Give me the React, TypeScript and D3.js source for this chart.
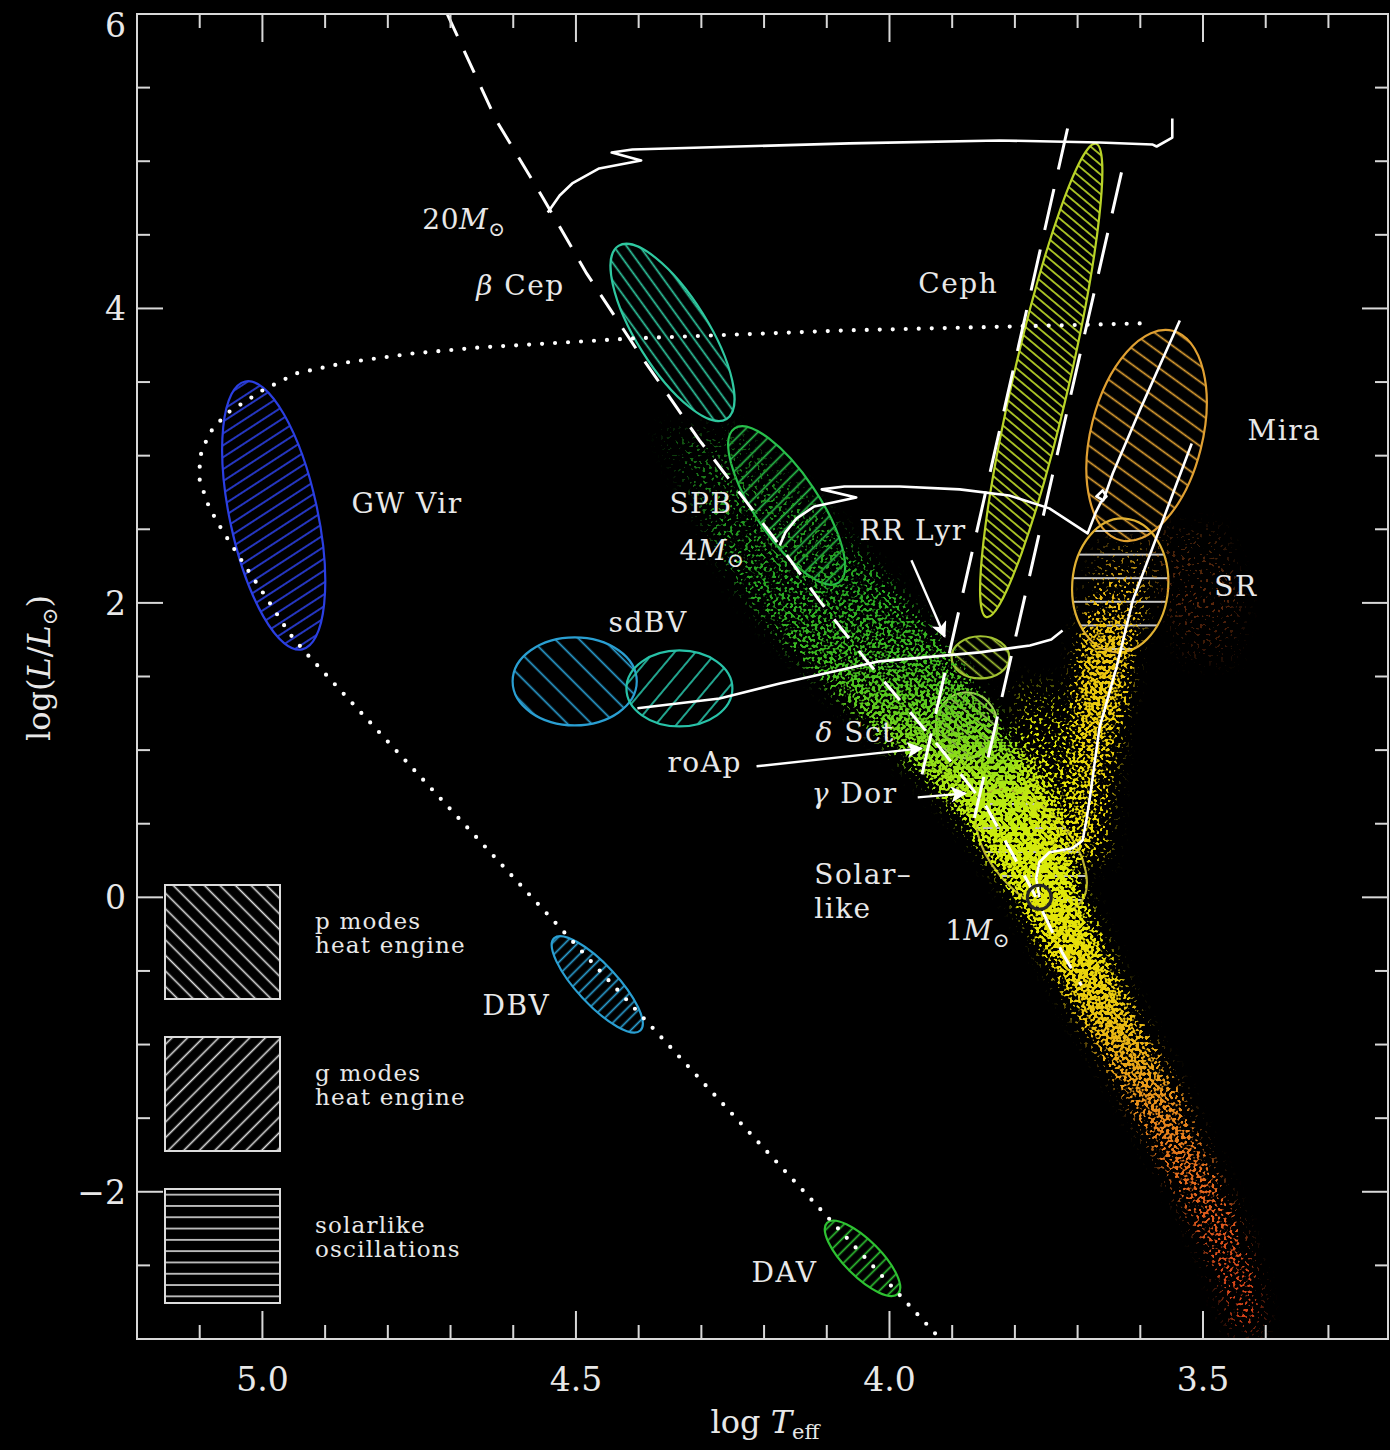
import React from 'react';
import * as d3 from 'd3';

// Page and plot frame (pixels)
const WIDTH = 1390;
const HEIGHT = 1450;
const PLOT = { left: 137, right: 1388, top: 14, bottom: 1339 };

// Axis domains: log Teff runs backwards, log L/Lsun upwards
const T_DOMAIN: [number, number] = [5.2, 3.205];
const L_DOMAIN: [number, number] = [-3, 6];

const xMajorTicks = [5.0, 4.5, 4.0, 3.5];
const xMinorTicks = [5.1, 4.9, 4.8, 4.7, 4.6, 4.4, 4.3, 4.2, 4.1, 3.9, 3.8, 3.7, 3.6, 3.4, 3.3];
const yMajorTicks = [-2, 0, 2, 4, 6];
const yMinorTicks = [-2.5, -1.5, -1, -0.5, 0.5, 1, 1.5, 2.5, 3, 3.5, 4.5, 5, 5.5];

// Zero-age main sequence [logTeff, logL]
const zams: [number, number][] = [
  [4.705, 5.997], [4.627, 5.277], [4.553, 4.754], [4.483, 4.238], [4.399, 3.694],
  [4.303, 3.104], [4.175, 2.39], [4.112, 2.017], [4.037, 1.61], [3.92, 1.019],
  [3.845, 0.611], [3.772, 0.048], [3.724, -0.38], [3.694, -0.598],
];

// Classical instability strip edges
const stripBlueEdge: [number, number][] = [[3.716, 5.222], [3.952, 0.761]];
const stripRedEdge: [number, number][] = [[3.63, 4.924], [3.868, 0.475]];

// Post-AGB / white-dwarf cooling sequence
const postAgb: [number, number][] = [
  [3.601, 3.898], [4.069, 3.851], [4.41, 3.796], [4.654, 3.735], [4.761, 3.694],
  [4.866, 3.633], [4.946, 3.559], [5.0, 3.443], [5.057, 3.287], [5.085, 3.151],
  [5.1, 2.988], [5.1, 2.832], [5.085, 2.649], [5.064, 2.492], [5.026, 2.241],
  [4.994, 2.037], [4.957, 1.793], [4.93, 1.657], [3.92, -2.995],
];

// Evolutionary tracks
const track20: [number, number][] = [
  [4.545, 4.652], [4.526, 4.767], [4.506, 4.849], [4.463, 4.951], [4.396, 5.005],
  [4.443, 5.059], [4.41, 5.08], [4.064, 5.121], [3.825, 5.141], [3.665, 5.127],
  [3.581, 5.114], [3.574, 5.1], [3.549, 5.161], [3.549, 5.29],
];
const track4: [number, number][] = [
  [4.175, 2.39], [4.166, 2.479], [4.148, 2.574], [4.12, 2.655], [4.053, 2.716],
  [4.108, 2.771], [4.072, 2.791], [3.984, 2.791], [3.888, 2.771], [3.809, 2.73],
  [3.745, 2.642], [3.684, 2.472], [3.671, 2.615], [3.663, 2.683], [3.654, 2.723],
  [3.66, 2.764], [3.67, 2.723], [3.659, 2.696], [3.644, 2.879], [3.601, 3.307],
  [3.537, 3.918],
];
const track1: [number, number][] = [
  [3.761, 0], [3.766, 0.129], [3.761, 0.238], [3.745, 0.306], [3.708, 0.333],
  [3.692, 0.387], [3.686, 0.523], [3.681, 0.659], [3.665, 1.154], [3.638, 1.562],
  [3.612, 2.017], [3.518, 3.083],
];
const horizontalBranch: [number, number][] = [
  [4.402, 1.284], [4.271, 1.351], [4.175, 1.453], [4.016, 1.603], [3.856, 1.664],
  [3.776, 1.711], [3.742, 1.752], [3.724, 1.813],
];
const sun: [number, number] = [3.761, 0];

// Pulsation regions: centre, half extents (logTeff, logL), tilt, driving type
type Zone = { name: string; t: number; L: number; dT: number; dL: number; tilt: number; mode: 'p' | 'g' | 's' };
const zones: Zone[] = [
  { name: 'GW Vir', t: 4.982, L: 2.594, dT: 0.07, dL: 0.93, tilt: -12, mode: 'g' },
  { name: 'β Cep', t: 4.346, L: 3.837, dT: 0.057, dL: 0.693, tilt: -32, mode: 'p' },
  { name: 'SPB', t: 4.164, L: 2.662, dT: 0.051, dL: 0.632, tilt: -34, mode: 'g' },
  { name: 'sdBV p', t: 4.502, L: 1.467, dT: 0.099, dL: 0.299, tilt: 0, mode: 'p' },
  { name: 'sdBV g', t: 4.335, L: 1.419, dT: 0.0845, dL: 0.258, tilt: 0, mode: 'g' },
  { name: 'Ceph', t: 3.758, L: 3.511, dT: 0.0447, dL: 1.65, tilt: 13, mode: 'p' },
  { name: 'Mira', t: 3.59, L: 3.137, dT: 0.089, dL: 0.733, tilt: 14, mode: 'p' },
  { name: 'SR', t: 3.632, L: 2.119, dT: 0.0766, dL: 0.455, tilt: 4, mode: 's' },
  { name: 'RR Lyr', t: 3.855, L: 1.63, dT: 0.046, dL: 0.143, tilt: 0, mode: 'p' },
  { name: 'δ Sct', t: 3.877, L: 1.168, dT: 0.049, dL: 0.224, tilt: 0, mode: 'p' },
  { name: 'Solar-like', t: 3.774, L: 0.319, dT: 0.064, dL: 0.489, tilt: -40, mode: 's' },
  { name: 'DBV', t: 4.466, L: -0.591, dT: 0.032, dL: 0.428, tilt: -43, mode: 'g' },
  { name: 'DAV', t: 4.043, L: -2.452, dT: 0.0287, dL: 0.34, tilt: -45, mode: 'g' },
];

// Outline colour, hatch angle (deg) and hatch gap (px) per region
const zoneStyle: Record<string, [string, number, number]> = {
  'GW Vir': ['#2b3fe2', -33, 10],
  'β Cep': ['#2fc8a0', 54, 10.5],
  'SPB': ['#28c04c', -45, 11],
  'sdBV p': ['#2a9fd2', 45, 17],
  'sdBV g': ['#28c2a8', -50, 16],
  'Ceph': ['#b9d328', 40, 7.5],
  'Mira': ['#e0a032', 36, 13],
  'SR': ['#e0b032', 0, 23.6],
  'RR Lyr': ['#a2c232', 40, 9],
  'δ Sct': ['#9ccf52', 40, 8],
  'Solar-like': ['#b9b232', 0, 24],
  'DBV': ['#2a9fd2', -45, 9],
  'DAV': ['#2ec232', -45, 9],
};

// Stellar sample density ridges: [logTeff, logL, half spread in logTeff, relative density]
const mainSequenceStars: number[][] = [
  [4.303, 3.17, 0.064, 0.18], [4.207, 2.63, 0.096, 0.3], [4.112, 2.085, 0.12, 0.45],
  [4.016, 1.61, 0.12, 0.58], [3.92, 1.134, 0.1, 0.8], [3.835, 0.727, 0.085, 0.97],
  [3.785, 0.353, 0.066, 1], [3.743, -0.02, 0.05, 1], [3.697, -0.428, 0.045, 0.95],
  [3.649, -0.835, 0.042, 0.85], [3.585, -1.31, 0.04, 0.72], [3.537, -1.72, 0.036, 0.62],
  [3.49, -2.126, 0.034, 0.52], [3.45, -2.533, 0.03, 0.42], [3.429, -2.94, 0.022, 0.32],
];
const giantStars: number[][] = [
  [3.681, 0.25, 0.028, 0.35], [3.678, 0.795, 0.032, 0.5], [3.665, 1.34, 0.038, 0.8],
  [3.652, 1.745, 0.04, 0.75], [3.633, 2.085, 0.045, 0.3], [3.617, 2.42, 0.045, 0.12],
];
const subgiantStars: number[][] = [
  [3.76, 1.45, 0.04, 0.15], [3.745, 1.0, 0.05, 0.35], [3.73, 0.55, 0.05, 0.45], [3.715, 0.25, 0.04, 0.4],
];
const coolGiantStars: number[][] = [
  [3.53, 2.5, 0.06, 0.08], [3.5, 2.0, 0.06, 0.12], [3.49, 1.6, 0.04, 0.06],
];
const starBands = [mainSequenceStars, giantStars, subgiantStars, coolGiantStars];

// Arrows [logT0, logL0, logT1, logL1]
const arrows: number[][] = [
  [3.965, 2.289, 3.912, 1.772],
  [4.212, 0.89, 3.949, 1.012],
  [3.955, 0.679, 3.879, 0.706],
];

// Region labels: text anchor at start, baseline
type Label = { text: string; t: number; L: number; fmt?: 'greek' | 'mass' };
const labels: Label[] = [
  { text: '20', t: 4.745, L: 4.543, fmt: 'mass' },
  { text: 'β Cep', t: 4.659, L: 4.088, fmt: 'greek' },
  { text: 'Ceph', t: 3.954, L: 4.102 },
  { text: 'Mira', t: 3.429, L: 3.104 },
  { text: 'GW Vir', t: 4.858, L: 2.608 },
  { text: 'SPB', t: 4.351, L: 2.608 },
  { text: '4', t: 4.335, L: 2.289, fmt: 'mass' },
  { text: 'RR Lyr', t: 4.048, L: 2.424 },
  { text: 'SR', t: 3.482, L: 2.044 },
  { text: 'sdBV', t: 4.448, L: 1.8 },
  { text: 'δ Sct', t: 4.118, L: 1.053, fmt: 'greek' },
  { text: 'roAp', t: 4.354, L: 0.849 },
  { text: 'γ Dor', t: 4.124, L: 0.638, fmt: 'greek' },
  { text: 'Solar–', t: 4.12, L: 0.088 },
  { text: 'like', t: 4.12, L: -0.143 },
  { text: '1', t: 3.911, L: -0.292, fmt: 'mass' },
  { text: 'DBV', t: 4.649, L: -0.801 },
  { text: 'DAV', t: 4.22, L: -2.615 },
];

const legendEntries: { mode: 'p' | 'g' | 's'; lines: string[] }[] = [
  { mode: 'p', lines: ['p modes', 'heat engine'] },
  { mode: 'g', lines: ['g modes', 'heat engine'] },
  { mode: 's', lines: ['solarlike', 'oscillations'] },
];

const SERIF = "'DejaVu Serif', 'Liberation Serif', serif";
const FG = '#e8e8e8';

function ellipsePath(cx: number, cy: number, rx: number, ry: number, phi: number) {
  const r = (phi * Math.PI) / 180;
  const dx = rx * Math.cos(r);
  const dy = rx * Math.sin(r);
  return `M${cx + dx},${cy + dy} A${rx},${ry} ${phi} 1 1 ${cx - dx},${cy - dy} A${rx},${ry} ${phi} 1 1 ${cx + dx},${cy + dy} Z`;
}

function LabelText({ d, x, y }: { d: Label; x: (v: number) => number; y: (v: number) => number }) {
  const common = { x: x(d.t), y: y(d.L), fill: FG, fontFamily: SERIF, fontSize: 28, letterSpacing: 1.5 };
  if (d.fmt === 'greek') {
    const [g, rest] = d.text.split(' ');
    return (
      <text {...common}>
        <tspan fontStyle="italic">{g}</tspan>
        <tspan>{'\u00a0' + rest}</tspan>
      </text>
    );
  }
  if (d.fmt === 'mass') {
    return (
      <text {...common} letterSpacing={0.5}>
        <tspan>{d.text}</tspan>
        <tspan fontStyle="italic">M</tspan>
        <tspan fontSize={20} dy={7}>⊙</tspan>
      </text>
    );
  }
  return <text {...common}>{d.text}</text>;
}

export default function App() {
  const x = d3.scaleLinear().domain(T_DOMAIN).range([PLOT.left, PLOT.right]);
  const y = d3.scaleLinear().domain(L_DOMAIN).range([PLOT.bottom, PLOT.top]);
  const line = d3.line<[number, number]>().x((d) => x(d[0])).y((d) => y(d[1]));

  const starColor = d3
    .scaleLinear<string>()
    .domain([4.35, 4.12, 3.97, 3.86, 3.77, 3.69, 3.63, 3.57, 3.5, 3.42])
    .range(['#1a7a1a', '#25a523', '#48c41e', '#9fe617', '#dcee08', '#ead80a', '#e8b414', '#e88a1c', '#e0601c', '#cf3a18'])
    .clamp(true);

  const band = d3
    .area<number[]>()
    .curve(d3.curveCatmullRom)
    .y((d) => y(d[1]))
    .x0((d) => x(d[0] + d[2]))
    .x1((d) => x(d[0] - d[2]));

  const pw = PLOT.right - PLOT.left;
  const ph = PLOT.bottom - PLOT.top;

  const legendBoxes = [885, 1037, 1189];

  return (
    <svg
      width={WIDTH}
      height={HEIGHT}
      style={{ position: 'absolute', left: 0, top: 0, display: 'block', background: '#000' }}
    >
      <defs>
        <clipPath id="plotClip">
          <rect x={PLOT.left} y={PLOT.top} width={pw} height={ph} />
        </clipPath>
        <filter
          id="starGrain"
          filterUnits="userSpaceOnUse"
          x={PLOT.left}
          y={PLOT.top}
          width={pw}
          height={ph}
          colorInterpolationFilters="sRGB"
        >
          <feGaussianBlur in="SourceGraphic" stdDeviation="9" result="soft" />
          <feColorMatrix in="soft" type="matrix" values="0 0 0 0 0  0 0 0 0 0  0 0 0 0 0  0 0 0 1 0" result="dens" />
          <feTurbulence type="fractalNoise" baseFrequency="0.33" numOctaves="1" seed="7" result="noise" />
          <feColorMatrix in="noise" type="matrix" values="0 0 0 0 0  0 0 0 0 0  0 0 0 0 0  3.2 0 0 0 -1.1" result="grain" />
          <feComposite in="dens" in2="grain" operator="arithmetic" k1="0" k2="3.5" k3="3.5" k4="-3.5" result="mask" />
          <feColorMatrix in="soft" type="matrix" values="1 0 0 0 0  0 1 0 0 0  0 0 1 0 0  0 0 0 0 1" result="solid" />
          <feComposite in="solid" in2="mask" operator="in" />
        </filter>
        {starBands.map((b, i) => {
          const y1 = y(b[0][1]);
          const y2 = y(b[b.length - 1][1]);
          return (
            <linearGradient key={i} id={`band-${i}`} gradientUnits="userSpaceOnUse" x1={0} x2={0} y1={y1} y2={y2}>
              {b.map((d, j) => (
                <stop
                  key={j}
                  offset={(y(d[1]) - y1) / (y2 - y1)}
                  stopColor={starColor(d[0])}
                  stopOpacity={d[3]}
                />
              ))}
            </linearGradient>
          );
        })}
        {zones.map((z, i) => {
          const [col, ang, gap] = zoneStyle[z.name];
          const hatchCol = z.mode === 's' ? '#e6e6e6' : col;
          return (
            <pattern
              key={i}
              id={`hatch-${i}`}
              patternUnits="userSpaceOnUse"
              width={gap}
              height={gap}
              patternTransform={`rotate(${ang})`}
            >
              <line x1={0} y1={gap / 2} x2={gap} y2={gap / 2} stroke={hatchCol} strokeWidth={1.7} />
            </pattern>
          );
        })}
        {legendEntries.map((e, i) => {
          const gap = e.mode === 's' ? 11.3 : 11;
          const ang = e.mode === 'p' ? 45 : e.mode === 'g' ? -45 : 0;
          return (
            <pattern
              key={i}
              id={`legend-${e.mode}`}
              patternUnits="userSpaceOnUse"
              width={gap}
              height={gap}
              patternTransform={`translate(165 ${legendBoxes[i]}) rotate(${ang})`}
            >
              <line x1={0} y1={gap / 2} x2={gap} y2={gap / 2} stroke="#dcdcdc" strokeWidth={1.6} />
            </pattern>
          );
        })}
        <marker
          id="arrowHead"
          viewBox="0 0 10 10"
          refX="9"
          refY="5"
          markerWidth="20"
          markerHeight="16"
          markerUnits="userSpaceOnUse"
          orient="auto"
        >
          <path d="M0,0 L10,5 L0,10 L2.5,5 z" fill="#fff" />
        </marker>
      </defs>

      <rect x={0} y={0} width={WIDTH} height={HEIGHT} fill="#000" />

      <g clipPath="url(#plotClip)">
        {/* instability regions */}
        {zones.map((z, i) => {
          const cx = x(z.t);
          const cy = y(z.L);
          const rx = Math.abs(x(z.t + z.dT) - cx);
          const ry = Math.abs(y(z.L + z.dL) - cy);
          const d = ellipsePath(cx, cy, rx, ry, z.tilt);
          return (
            <path key={z.name} d={d} fill={`url(#hatch-${i})`} stroke={zoneStyle[z.name][0]} strokeWidth={2.2} />
          );
        })}

        {/* stellar sample */}
        <g filter="url(#starGrain)">
          {starBands.map((b, i) => (
            <path key={i} d={band(b) || ''} fill={`url(#band-${i})`} />
          ))}
        </g>

        {/* sequences and tracks */}
        <path d={line(postAgb) || ''} fill="none" stroke="#fff" strokeWidth={4.2} strokeDasharray="0 13" strokeLinecap="round" />
        <path d={line(zams) || ''} fill="none" stroke="#fff" strokeWidth={3} strokeDasharray="24 16" />
        <path d={line(stripBlueEdge) || ''} fill="none" stroke="#fff" strokeWidth={3} strokeDasharray="42 20" />
        <path d={line(stripRedEdge) || ''} fill="none" stroke="#fff" strokeWidth={3} strokeDasharray="42 20" />
        {[track20, track4, track1, horizontalBranch].map((tr, i) => (
          <path key={i} d={line(tr) || ''} fill="none" stroke="#fff" strokeWidth={2.6} strokeLinejoin="round" />
        ))}
        <circle cx={x(sun[0])} cy={y(sun[1])} r={12} fill="none" stroke="#262626" strokeWidth={3} />

        {arrows.map((a, i) => (
          <line
            key={i}
            x1={x(a[0])}
            y1={y(a[1])}
            x2={x(a[2])}
            y2={y(a[3])}
            stroke="#fff"
            strokeWidth={2.4}
            markerEnd="url(#arrowHead)"
          />
        ))}
      </g>

      {/* region labels */}
      {labels.map((d, i) => (
        <LabelText key={i} d={d} x={x} y={y} />
      ))}

      {/* legend */}
      {legendEntries.map((e, i) => (
        <g key={e.mode}>
          <rect
            x={165}
            y={legendBoxes[i]}
            width={115}
            height={114}
            fill={`url(#legend-${e.mode})`}
            stroke="#dcdcdc"
            strokeWidth={2}
          />
          {e.lines.map((s, j) => (
            <text
              key={j}
              x={315}
              y={legendBoxes[i] + 44 + j * 24}
              fill={FG}
              fontFamily={SERIF}
              fontSize={23}
              letterSpacing={1.2}
            >
              {s}
            </text>
          ))}
        </g>
      ))}

      {/* frame and ticks */}
      <rect x={PLOT.left} y={PLOT.top} width={pw} height={ph} fill="none" stroke="#d8d8d8" strokeWidth={2} />
      {xMajorTicks.concat(xMinorTicks).map((t) => {
        const len = xMajorTicks.includes(t) ? 28 : 14;
        const px = x(t);
        return (
          <g key={`xt${t}`} stroke="#d8d8d8" strokeWidth={2}>
            <line x1={px} x2={px} y1={PLOT.bottom} y2={PLOT.bottom - len} />
            <line x1={px} x2={px} y1={PLOT.top} y2={PLOT.top + len} />
          </g>
        );
      })}
      {yMajorTicks.concat(yMinorTicks).map((v) => {
        const len = yMajorTicks.includes(v) ? 26 : 13;
        const py = y(v);
        return (
          <g key={`yt${v}`} stroke="#d8d8d8" strokeWidth={2}>
            <line x1={PLOT.left} x2={PLOT.left + len} y1={py} y2={py} />
            <line x1={PLOT.right} x2={PLOT.right - len} y1={py} y2={py} />
          </g>
        );
      })}
      {xMajorTicks.map((t) => (
        <text key={`xl${t}`} x={x(t)} y={1391} textAnchor="middle" fill={FG} fontFamily={SERIF} fontSize={33}>
          {t.toFixed(1)}
        </text>
      ))}
      {yMajorTicks.map((v) => (
        <text
          key={`yl${v}`}
          x={126}
          y={Math.max(y(v), 25) + 12}
          textAnchor="end"
          fill={FG}
          fontFamily={SERIF}
          fontSize={33}
        >
          {v < 0 ? `\u2212${Math.abs(v)}` : `${v}`}
        </text>
      ))}

      {/* axis titles */}
      <text x={765} y={1433} textAnchor="middle" fill={FG} fontFamily={SERIF} fontSize={32}>
        log<tspan fontStyle="italic">{'\u00a0T'}</tspan>
        <tspan fontSize={21} dy={6}>eff</tspan>
      </text>
      <text
        transform="translate(50 668) rotate(-90)"
        textAnchor="middle"
        fill={FG}
        fontFamily={SERIF}
        fontSize={32}
      >
        log(<tspan fontStyle="italic">L</tspan>/<tspan fontStyle="italic">L</tspan>
        <tspan fontSize={21} dy={7}>⊙</tspan>
        <tspan dy={-7}>)</tspan>
      </text>
    </svg>
  );
}
